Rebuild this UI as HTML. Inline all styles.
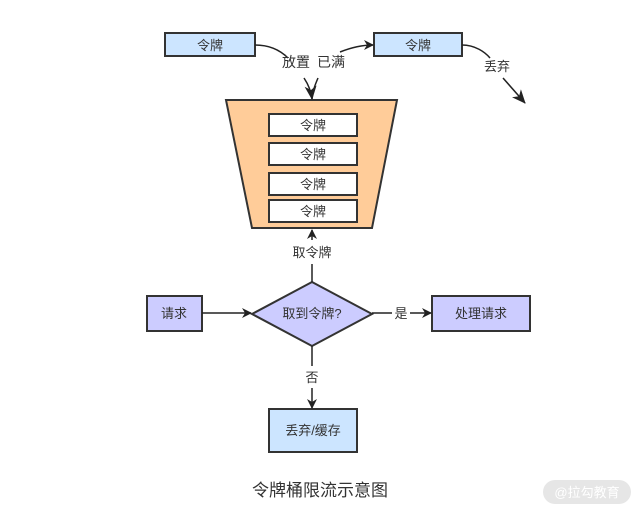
<!DOCTYPE html>
<html><head><meta charset="utf-8"><style>
body{margin:0;background:#fff;}
svg text{font-family:"Liberation Sans","Noto Sans CJK SC",sans-serif;}
</style></head><body>
<svg width="640" height="514" viewBox="0 0 640 514" xmlns="http://www.w3.org/2000/svg">
<defs><marker id="a" markerWidth="10" markerHeight="10" refX="9" refY="5" orient="auto" markerUnits="userSpaceOnUse"><path d="M0,0 L10,5 L0,10 L3,5 z" fill="#222"/></marker>
<marker id="b" markerWidth="14" markerHeight="12" refX="13" refY="6" orient="auto" markerUnits="userSpaceOnUse"><path d="M0,0 L14,6 L0,12 L4,6 z" fill="#222"/></marker></defs>
<g stroke="#333" stroke-width="2">
<rect x="165" y="33" width="90" height="23" fill="#cce5ff"/>
<rect x="374" y="33" width="88" height="23" fill="#cce5ff"/>
<polygon points="226,100 397,100 372,228 252,228" fill="#ffcc99"/>
<rect x="269" y="114" width="88" height="22" fill="#fff"/>
<rect x="269" y="143" width="88" height="22" fill="#fff"/>
<rect x="269" y="173" width="88" height="22" fill="#fff"/>
<rect x="269" y="200" width="88" height="22" fill="#fff"/>
<polygon points="312,282 372,314 312,346 252,314" fill="#ccccff"/>
<rect x="147" y="296" width="55" height="35" fill="#ccccff"/>
<rect x="432" y="296" width="98" height="35" fill="#ccccff"/>
<rect x="269" y="409" width="88" height="43" fill="#cce5ff"/>
</g>
<g stroke="#222" stroke-width="1.5" fill="none">
<path d="M255,45 C272,45 282,52 288,58"/>
<path d="M304,78 C308,84 311,90 312,99" marker-end="url(#b)"/>
<path d="M318,78 C315,85 313,90 312,99"/>
<path d="M340,52 C350,48 360,45 373,45" marker-end="url(#a)"/>
<path d="M462,45 C475,45 485,52 490,58"/>
<path d="M503,78 L525,103" marker-end="url(#b)"/>
<path d="M312,282 L312,264"/>
<path d="M312,240 L312,230" marker-end="url(#a)"/>
<path d="M202,313 L251,313" marker-end="url(#a)"/>
<path d="M372,313 L392,313"/>
<path d="M410,313 L431,313" marker-end="url(#a)"/>
<path d="M312,346 L312,366"/>
<path d="M312,388 L312,408" marker-end="url(#a)"/>
</g>
<g font-size="13" fill="#333" text-anchor="middle">
<text x="210" y="50">令牌</text>
<text x="418" y="50">令牌</text>
<text x="313" y="130">令牌</text>
<text x="313" y="159">令牌</text>
<text x="313" y="189">令牌</text>
<text x="313" y="216">令牌</text>
<text x="296" y="67" font-size="14">放置</text>
<text x="331" y="67" font-size="14">已满</text>
<text x="497" y="71">丢弃</text>
<text x="312" y="257">取令牌</text>
<text x="312" y="318">取到令牌?</text>
<text x="174" y="318">请求</text>
<text x="401" y="318">是</text>
<text x="481" y="318">处理请求</text>
<text x="312" y="382">否</text>
<text x="313" y="435">丢弃/缓存</text>
<text x="320" y="496" font-size="17">令牌桶限流示意图</text>
</g>
<rect x="543" y="480" width="88" height="24" rx="12" fill="#e6e6e6"/>
<text x="587" y="497" font-size="13" fill="#fff" text-anchor="middle">@拉勾教育</text>
</svg>
</body></html>
